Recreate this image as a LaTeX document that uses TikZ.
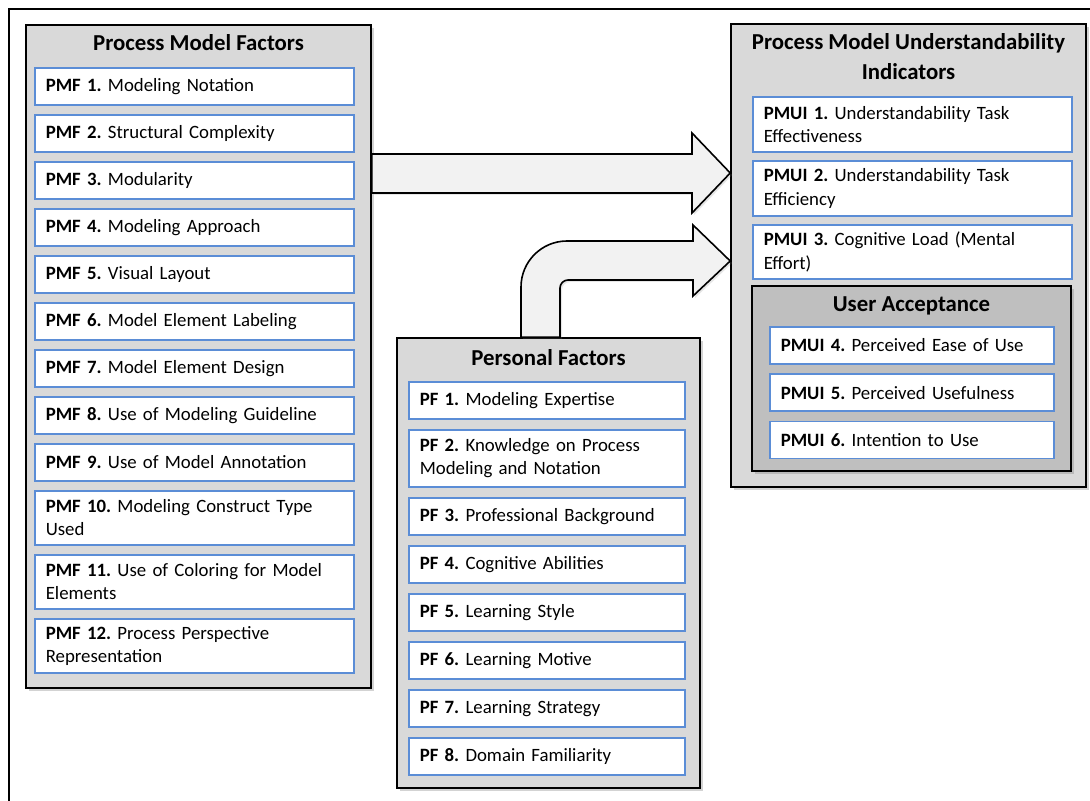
\documentclass[tikz,border=0pt]{standalone}
\usepackage{fontspec}
\setmainfont{Carlito}
\frenchspacing
\usetikzlibrary{positioning,fit,shadows}
\definecolor{panelgray}{HTML}{D9D9D9}
\definecolor{accgray}{HTML}{BFBFBF}
\definecolor{itemblue}{HTML}{5B8DD6}
\definecolor{arrowfill}{HTML}{F2F2F2}
\tikzset{node distance=4.2pt, % gap between two factor boxes
panel/.style={draw=black, line width=0.8pt, fill=panelgray, inner sep=0pt, drop shadow={shadow xshift=1.5pt, shadow yshift=-1.5pt, opacity=0.35}}, % grey group box
paneltitle/.style={font=\fontsize{11.4}{15}\selectfont\bfseries, align=center, inner sep=0pt}, % heading of a group
factor/.style={draw=itemblue, line width=0.8pt, fill=white, inner xsep=5.5pt, inner ysep=1pt, text width=#1, align=left, minimum height=18.5pt, font=\fontsize{9.4}{11.7}\selectfont}, % one factor
factor/.default=148.5pt,
blockarrow/.style={draw=black, line width=0.8pt, fill=arrowfill, line join=miter, drop shadow={shadow xshift=1pt, shadow yshift=-1pt, opacity=0.2}}, % wide arrow
}

\begin{document}
\begin{tikzpicture}[x=0.5pt, y=-0.5pt]
\useasboundingbox (0,0) rectangle (1090,801);
\draw[line width=0.8pt] (9,801) -- (9,9) -- (1090,9);

% process model factors
\node[panel, fit={(26,25) (371,688)}] (pmf) {};
\node[paneltitle, anchor=base] (pmft) at (pmf.north |- 0,51) {Process Model Factors};
\node[factor, anchor=north west] (pmf1) at (34,67) {\textbf{PMF 1.} Modeling Notation};
\node[factor, below=of pmf1] (pmf2) {\textbf{PMF 2.} Structural Complexity};
\node[factor, below=of pmf2] (pmf3) {\textbf{PMF 3.} Modularity};
\node[factor, below=of pmf3] (pmf4) {\textbf{PMF 4.} Modeling Approach};
\node[factor, below=of pmf4] (pmf5) {\textbf{PMF 5.} Visual Layout};
\node[factor, below=of pmf5] (pmf6) {\textbf{PMF 6.} Model Element Labeling};
\node[factor, below=of pmf6] (pmf7) {\textbf{PMF 7.} Model Element Design};
\node[factor, below=of pmf7] (pmf8) {\textbf{PMF 8.} Use of Modeling Guideline};
\node[factor, below=of pmf8] (pmf9) {\textbf{PMF 9.} Use of Model Annotation};
\node[factor, below=of pmf9, minimum height=27pt] (pmf10) {\textbf{PMF 10.} Modeling Construct Type\\Used};
\node[factor, below=of pmf10, minimum height=27pt] (pmf11) {\textbf{PMF 11.} Use of Coloring for Model\\Elements};
\node[factor, below=of pmf11, minimum height=27pt] (pmf12) {\textbf{PMF 12.} Process Perspective\\Representation};

% understandability indicators
\node[panel, fit={(731,24) (1086,487)}] (pmui) {};
\node[paneltitle, anchor=base] (pmuit) at (pmui.north |- 0,80) {Process Model Understandability\\Indicators};
\node[factor, anchor=north west, minimum height=27.5pt] (pmui1) at (752,96) {\textbf{PMUI 1.} Understandability Task\\Effectiveness};
\node[factor, below=3.7pt of pmui1, minimum height=27.5pt] (pmui2) {\textbf{PMUI 2.} Understandability Task\\Efficiency};
\node[factor, below=3.7pt of pmui2, minimum height=27pt] (pmui3) {\textbf{PMUI 3.} Cognitive Load (Mental\\Effort)};
\node[panel, fill=accgray, fit={(752,286) (1071,471)}] (ua) {};
\node[paneltitle, anchor=base] (uat) at (ua.north |- 0,312) {User Acceptance};
\node[factor=131pt, anchor=north west] (pmui4) at (769,326) {\textbf{PMUI 4.} Perceived Ease of Use};
\node[factor=131pt, below=4.4pt of pmui4] (pmui5) {\textbf{PMUI 5.} Perceived Usefulness};
\node[factor=131pt, below=4.4pt of pmui5] (pmui6) {\textbf{PMUI 6.} Intention to Use};

% personal factors
\node[panel, fit={(397,338) (700,788)}] (pf) {};
\node[paneltitle, anchor=base] (pft) at (pf.north |- 0,365) {Personal Factors};
\begin{scope}[node distance=4.7pt]
\node[factor=127pt, anchor=north west] (pf1) at (408,381) {\textbf{PF 1.} Modeling Expertise};
\node[factor=127pt, below=of pf1, minimum height=28.5pt] (pf2) {\textbf{PF 2.} Knowledge on Process\\Modeling and Notation};
\node[factor=127pt, below=of pf2] (pf3) {\textbf{PF 3.} Professional Background};
\node[factor=127pt, below=of pf3] (pf4) {\textbf{PF 4.} Cognitive Abilities};
\node[factor=127pt, below=of pf4] (pf5) {\textbf{PF 5.} Learning Style};
\node[factor=127pt, below=of pf5] (pf6) {\textbf{PF 6.} Learning Motive};
\node[factor=127pt, below=of pf6] (pf7) {\textbf{PF 7.} Learning Strategy};
\node[factor=127pt, below=of pf7] (pf8) {\textbf{PF 8.} Domain Familiarity};
\end{scope}

% wide arrows
\draw[blockarrow] (pmf.east |- 0,154) -- (692,154) -- (692,133) -- (pmui.west |- 0,173) -- (692,213) -- (692,193) -- (pmf.east |- 0,193) -- cycle;
\draw[blockarrow] (pf.north -| 521,0) -- (521,287) arc[start angle=180, end angle=90, radius=23pt] -- (693,241) -- (693,225) -- (pmui.west |- 0,261) -- (693,296) -- (693,280) -- (568,280) arc[start angle=90, end angle=180, radius=4pt] -- (pf.north -| 560,0) -- cycle;
\end{tikzpicture}
\end{document}
